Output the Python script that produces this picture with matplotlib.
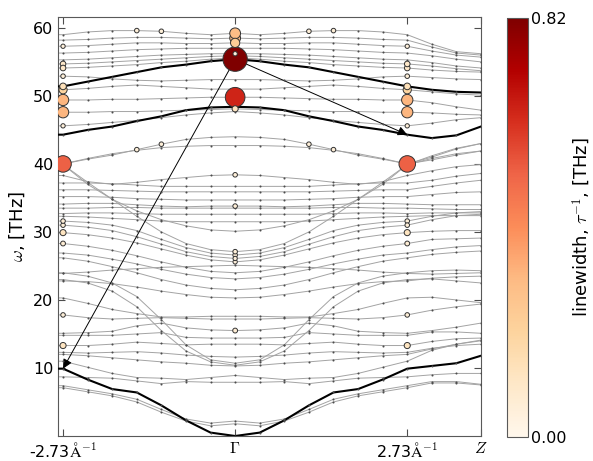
import numpy as np
import matplotlib
matplotlib.use('Agg')
from matplotlib import pyplot as plt
from matplotlib import cm, colors

# k-path: Gamma -> 2.73 1/A in 7 steps, then 3 more steps to Z
K_STEP = 2.73 / 7
k_right = K_STEP * np.arange(11)
X_MIN = -2.81

# band frequencies [THz] on the Gamma -> Z side (mirrored to negative k)
b1 = [0.0, 0.5, 2.3, 4.5, 6.4, 6.9, 8.3, 9.9, 10.3, 10.7, 11.8]
b2 = [55.4, 55.1, 54.6, 54.2, 53.5, 52.8, 52.1, 51.4, 50.9, 50.6, 50.5]
b3 = [48.4, 48.3, 47.9, 47.0, 46.3, 45.5, 45.0, 44.3, 43.8, 44.2, 45.5]

h1 = [59.2, 59.0, 59.2, 59.5, 59.6, 59.6, 59.4, 59.0, 57.6, 56.5, 56.2]
h2 = [58.5, 58.4, 58.5, 58.6, 58.6, 58.5, 58.3, 58.2, 57.2, 56.3, 56.0]
h3 = [57.8, 57.7, 57.7, 57.8, 57.8, 57.6, 57.4, 57.3, 56.6, 56.0, 55.7]
h4 = [57.0, 57.0, 57.0, 56.9, 56.8, 56.6, 56.4, 56.3, 55.9, 55.4, 55.0]
h5 = [56.2, 56.2, 56.1, 56.0, 55.8, 55.6, 55.4, 55.3, 54.9, 54.4, 54.1]
h6 = [55.9, 55.8, 55.6, 55.4, 55.2, 55.0, 54.8, 54.7, 54.4, 54.0, 53.7]
h7 = [55.6, 55.4, 55.1, 54.9, 54.6, 54.4, 54.2, 54.1, 53.8, 53.6, 53.5]
h8 = [52.4, 52.4, 52.3, 52.2, 52.3, 52.5, 52.8, 52.9, 52.7, 52.5, 52.4]
h9 = [51.0, 51.0, 51.2, 51.4, 51.6, 51.4, 51.1, 50.9, 50.6, 50.3, 50.1]
h10 = [49.8, 49.8, 49.7, 49.6, 49.5, 49.5, 49.4, 49.4, 49.0, 48.4, 47.9]
h11 = [48.1, 48.0, 47.9, 47.8, 47.7, 47.7, 47.6, 47.6, 47.5, 47.3, 47.2]
h12 = [47.7, 47.5, 47.2, 46.8, 46.4, 46.1, 45.8, 45.6, 46.0, 46.5, 46.8]
u1 = [44.0, 43.9, 43.6, 42.9, 42.1, 41.3, 40.7, 40.0, 41.0, 42.2, 43.0]
u2 = [42.7, 42.7, 42.6, 42.4, 42.0, 41.5, 40.8, 40.0, 40.6, 41.3, 41.9]

f1 = [38.4, 38.3, 38.0, 37.7, 37.3, 37.0, 37.4, 38.3, 39.0, 39.6, 39.9]
f2 = [36.7, 36.7, 36.7, 36.7, 36.9, 37.1, 37.2, 37.2, 37.6, 38.2, 38.6]
f3 = [35.9, 35.9, 35.9, 35.9, 36.0, 36.1, 36.2, 36.2, 36.7, 37.2, 37.6]
f4 = [34.7, 34.7, 34.7, 34.8, 34.9, 35.1, 35.2, 35.2, 35.5, 35.8, 35.9]
f5 = [33.8, 33.8, 33.7, 33.8, 34.0, 34.2, 34.2, 34.1, 34.0, 34.0, 34.0]
f6 = [33.5, 33.5, 33.5, 33.5, 33.6, 33.6, 33.5, 33.5, 33.4, 33.3, 33.3]
f7 = [32.6, 32.6, 32.6, 32.6, 32.7, 32.8, 32.8, 32.7, 32.8, 32.8, 32.8]
f8 = [31.5, 31.5, 31.5, 31.6, 31.8, 32.0, 32.2, 32.3, 32.4, 32.4, 32.4]

r0 = [30.1, 30.3, 30.9, 31.8, 33.1, 34.8, 37.0, 39.9, 40.8, 41.5, 41.9]
r1 = [27.1, 27.4, 28.3, 30.0, 32.3, 34.8, 37.3, 39.9, 41.2, 42.3, 43.0]
r2 = [26.6, 26.9, 27.7, 28.9, 30.2, 31.0, 31.4, 31.6, 32.3, 32.8, 33.0]
r3 = [26.1, 26.4, 27.1, 28.2, 29.3, 30.2, 30.7, 31.0, 31.8, 32.4, 32.6]
r4 = [25.6, 25.9, 26.6, 27.5, 28.4, 29.1, 29.6, 29.9, 30.1, 30.2, 30.2]
r5 = [25.1, 25.0, 24.9, 24.8, 24.6, 24.4, 24.1, 23.9, 23.8, 23.9, 24.0]
r6 = [24.0, 24.2, 24.8, 25.6, 26.5, 27.3, 27.9, 28.3, 28.9, 29.0, 29.1]
r7 = [23.1, 23.3, 23.8, 24.5, 25.3, 26.0, 26.6, 26.9, 27.4, 27.8, 28.0]
r8 = [21.5, 21.7, 22.2, 23.0, 24.0, 24.9, 25.7, 26.2, 26.7, 27.0, 27.2]
r9 = [20.3, 20.4, 20.8, 21.3, 21.9, 22.4, 22.7, 22.8, 23.2, 23.4, 23.5]
s1 = [10.4, 10.9, 12.5, 15.5, 19.0, 21.3, 22.5, 23.0, 23.1, 22.8, 22.5]
s2 = [10.7, 11.2, 13.4, 17.1, 20.5, 22.5, 23.5, 24.0, 24.3, 24.4, 24.3]

l1 = [17.6, 17.6, 17.5, 17.5, 18.0, 18.6, 19.5, 20.3, 20.4, 20.0, 19.6]
l2 = [17.2, 17.2, 17.3, 17.4, 17.3, 17.2, 17.4, 17.8, 18.5, 19.0, 19.4]
l3 = [15.5, 15.6, 15.9, 16.6, 16.2, 15.4, 15.2, 15.1, 15.5, 16.0, 16.6]
l4 = [14.4, 14.4, 14.5, 15.2, 15.0, 14.8, 14.8, 14.8, 15.3, 15.3, 15.1]
l5 = [13.5, 13.5, 13.4, 13.6, 13.8, 13.5, 13.3, 13.3, 13.9, 14.3, 14.4]
l6 = [11.6, 11.7, 11.9, 12.2, 12.4, 12.3, 12.2, 12.3, 12.9, 13.3, 13.5]
l7 = [10.3, 10.4, 10.7, 10.9, 11.2, 11.5, 11.8, 12.0, 12.8, 13.5, 14.0]
l8 = [8.9, 8.6, 8.3, 8.5, 8.6, 9.2, 10.1, 11.0, 12.6, 13.5, 14.1]
l9 = [7.9, 7.9, 8.0, 7.7, 8.1, 8.5, 8.6, 8.7, 9.0, 9.2, 9.2]
ta1 = [1.8, 1.5, 2.2, 3.5, 5.0, 5.9, 6.5, 7.1, 7.8, 7.8, 7.5]
ta2 = [2.2, 1.9, 2.5, 3.9, 5.4, 6.2, 6.8, 7.4, 8.0, 8.0, 7.6]

gray_bands = [h1, h2, h3, h4, h5, h6, h7, h8, h9, h10, h11, h12, u1, u2,
              f1, f2, f3, f4, f5, f6, f7, f8,
              r0, r1, r2, r3, r4, r5, r6, r7, r8, r9, s1, s2,
              l1, l2, l3, l4, l5, l6, l7, l8, l9, ta1, ta2]
black_bands = [b1, b2, b3]

# (band, k index, linewidth [THz]) -- everything else is ~0
marks = [
    (h1, 0, 0.30), (h2, 0, 0.30), (h3, 0, 0.24), (h5, 0, 0.05),
    (b2, 0, 0.82), (h10, 0, 0.64), (h11, 0, 0.12), (f1, 0, 0.06),
    (f5, 0, 0.06), (r1, 0, 0.06), (r2, 0, 0.06), (r3, 0, 0.05),
    (r4, 0, 0.05), (l3, 0, 0.07),
    (h1, 3, 0.06), (u1, 3, 0.06), (h1, 4, 0.06), (u1, 4, 0.06),
    (h3, 7, 0.05), (h6, 7, 0.10), (h7, 7, 0.10), (h8, 7, 0.06),
    (b2, 7, 0.14), (h9, 7, 0.20), (h10, 7, 0.32), (h11, 7, 0.32),
    (h12, 7, 0.05), (u1, 7, 0.52), (r2, 7, 0.06), (r3, 7, 0.06),
    (r4, 7, 0.12), (r6, 7, 0.07), (l2, 7, 0.06), (l5, 7, 0.12),
]

LW_MAX = 0.82
DPI = 100


def full_path(band):
    # mirror Gamma->2.73 onto negative k, stretch to the left axis edge
    v = np.asarray(band)
    x = np.concatenate([[X_MIN], -k_right[7:0:-1], k_right])
    y = np.concatenate([[v[7]], v[7:0:-1], v])
    return x, y


def band_widths(band):
    w = np.zeros(11)
    for b, i, val in marks:
        if b is band:
            w[i] = val
    return np.concatenate([w[7:0:-1], w])


plt.rcParams['mathtext.fontset'] = 'cm'
plt.rcParams['font.size'] = 11.5

fig = plt.figure(figsize=(5.93, 4.61), dpi=DPI)
ax = fig.add_axes([58 / 593, 25 / 461, 423 / 593, 419 / 461])

px, py, pw = [], [], []
for band in gray_bands + black_bands:
    x, y = full_path(band)
    is_black = any(band is b for b in black_bands)
    ax.plot(x, y, color='k' if is_black else '0.64',
            lw=1.5 if is_black else 0.7, zorder=3 if is_black else 2)
    px.append(x[1:])
    py.append(y[1:])
    pw.append(band_widths(band))

px = np.concatenate(px)
py = np.concatenate(py)
pw = np.concatenate(pw)

# tiny dots where linewidth ~ 0
zero = pw == 0
ax.scatter(px[zero], py[zero], s=2.2, c='0.3', linewidths=0, zorder=5)

# circles scaled and coloured by linewidth, large ones underneath
order = np.argsort(-pw[~zero])
mx, my, mw = px[~zero][order], py[~zero][order], pw[~zero][order]
diam = (3 + 26 * mw) * 72.0 / DPI
norm = colors.Normalize(0, LW_MAX)
ax.scatter(mx, my, s=diam ** 2, c=mw, cmap='OrRd', norm=norm,
           edgecolors='0.2', linewidths=0.7, zorder=6)

# scattering arrows from the strong Gamma mode
arrow = dict(arrowstyle='-|>', color='k', lw=0.7, mutation_scale=14,
             shrinkA=0, shrinkB=0)
ax.annotate('', xy=(-k_right[7], b1[7]), xytext=(0, b2[0]),
            arrowprops=arrow, zorder=4)
ax.annotate('', xy=(k_right[7], b3[7]), xytext=(0, b2[0]),
            arrowprops=arrow, zorder=4)

ax.set_xlim(X_MIN, k_right[-1])
ax.set_ylim(0, 61.6)
ax.set_xticks([-k_right[7], 0, k_right[7], k_right[-1]])
ax.set_xticklabels([r'-2.73$\mathrm{\AA}^{-1}$', r'$\Gamma$',
                    r'2.73$\mathrm{\AA}^{-1}$', r'$Z$'])
ax.set_yticks([10, 20, 30, 40, 50, 60])
ax.tick_params(direction='in', top=True, right=True, length=5,
               color='0.3', labelsize=11.5)
for sp in ax.spines.values():
    sp.set_color('0.35')
ax.set_ylabel(r'$\omega$, [THz]', fontsize=13, labelpad=4)

cax = fig.add_axes([507 / 593, 24 / 461, 21 / 593, 419 / 461])
sm = cm.ScalarMappable(norm=norm, cmap='OrRd')
cb = fig.colorbar(sm, cax=cax, ticks=[0, LW_MAX], format='%.2f')
cb.outline.set_edgecolor('0.35')
cax.tick_params(length=0, labelsize=11.5, pad=2)
cax.set_ylabel(r'linewidth, $\tau^{-1}$, [THz]', fontsize=13, labelpad=3)

fig.savefig('out.png', dpi=DPI)
